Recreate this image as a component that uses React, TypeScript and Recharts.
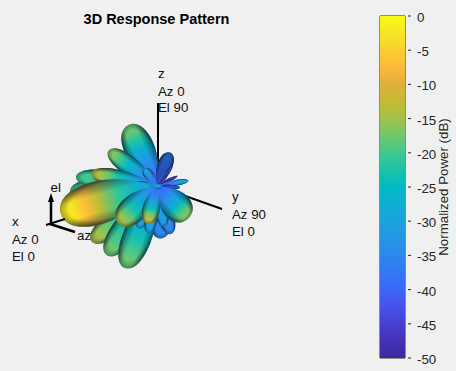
import { BarChart, Bar, ComposedChart, ReferenceArea, Scatter, XAxis, YAxis } from 'recharts'

const CHART_W = 456
const CHART_H = 371
const FONT = '"Liberation Sans", Arial, sans-serif'

// projected plot plane, hub of the pattern is at 0,0
const U_DOMAIN = [-78.5, 149.5]
const V_DOMAIN = [-92.5, 93]
const UNIT = CHART_W / (U_DOMAIN[1] - U_DOMAIN[0])

// colour scale
const scaleDb = [0, -2.5, -5, -7.5, -10, -12.5, -15, -17.5, -20, -22.5, -25, -27.5, -30, -32.5, -35, -37.5, -40, -42.5, -45, -47.5, -50]
const scaleColor = ['#f9fb15', '#f5e526', '#f9cf30', '#feb93a', '#dfb03c', '#c4bb33', '#a2c14c', '#72c76d', '#40c88f', '#1ac3a8', '#01bbc4', '#0eaed2', '#1ca2dc', '#2596e6', '#2b88ee', '#3378f6', '#3d66f8', '#4652ec', '#483fd4', '#4430b6', '#3c2a9a']
const powerTicks = [0, -5, -10, -15, -20, -25, -30, -35, -40, -45, -50]

// lobes in paint order, back to front. All start at the hub except the last one
const lobeU = [0, 0, 0, 0, 0, 0, 0, 0, 0, 0, 0, 0, 0, 0, 0, 0, 0, 0, 0, 0, 0, 0, 0, 0, 0, -2]
const lobeV = [0, 0, 0, 0, 0, 0, 0, 0, 0, 0, 0, 0, 0, 0, 0, 0, 0, 0, 0, 0, 0, 0, 0, 0, 0, 0]
const lobeTipU = [-43.5, -40.5, 2.2, 7, -32.7, -25.2, -16, -9.3, -4.3, 3.5, -14.3, -24.2, 6.5, -6.5, 5.2, 7.3, 10.2, 15.7, 11.5, -32.7, -11.3, -48.2, 15.7, -19.3, -4.8, 2.5]
const lobeTipV = [-2.8, 4.7, -26.2, -24, -27.8, -34.5, -41, -21.2, -23.7, -20.3, 30.5, 17.7, 16.7, 8.8, 7.2, 9.3, 5, 2.7, -0.7, 6.3, 1, -13.7, -16.2, -18.7, -18.7, 0]
const lobeWidth = [12, 10, 11, 8, 12, 13, 14.5, 6.5, 6.5, 6.5, 15, 9.5, 7.5, 4.7, 3, 1.5, 1.5, 3, 2, 8.7, 3.4, 21.5, 14.5, 13.5, 8.7, 2.4]
const lobeBaseDb = [-30, -30, -36, -36, -31, -31, -33, -33, -33, -34, -40, -37, -42, -38, -42, -46, -48, -42, -46, -36, -34, -30, -40, -36, -40, -28]
const lobeTipDb = [-20, -20, -35, -35, -15, -18, -18, -30, -30, -31, -18, -17, -36, -30, -34, -40, -44, -29, -36, -14, -28, -2, -17, -15, -13, -31]

const hubLineZ = [{ u: 0.5, v: 41.5 }, { u: 0.5, v: 0 }]
const hubLineY = [{ u: 0, v: 0 }, { u: 32.5, v: -11.5 }]
const triadEl = [{ u: -53, v: -19 }, { u: -53, v: -6 }]
const triadAz = [{ u: -53.5, v: -19 }, { u: -41, v: -23 }]
const triadOther = [{ u: -55.5, v: -19.5 }, { u: -46, v: -16.5 }]
const triadHead = [{ u: -53, v: -5 }]

const labelTexts = ['x', 'Az 0', 'El 0', 'y', 'Az 90', 'El 0', 'z', 'Az 0', 'El 90', 'el', 'az']
const labelU = [-72.5, -72.5, -72.5, 37.5, 37.5, 37.5, 0.5, 0.5, 0.5, -53.2, -40]
const labelV = [-18, -27, -35.5, -5.5, -14.5, -23.2, 56.2, 47.2, 39, -1, -25]

const lobes = lobeU.map((u, i) => ({
  u,
  v: lobeV[i],
  tipU: lobeTipU[i],
  tipV: lobeTipV[i],
  width: lobeWidth[i],
  baseDb: lobeBaseDb[i],
  tipDb: lobeTipDb[i],
}))
const labels = labelTexts.map((text, i) => ({ u: labelU[i], v: labelV[i], text }))
const powerRow = [{ name: 'power', value: -50 }]

function dbColor(db: number) {
  const d = Math.max(-50, Math.min(0, db))
  const idx = Math.min(scaleDb.length - 2, Math.floor(-d / 2.5))
  const t = (scaleDb[idx] - d) / 2.5
  const a = scaleColor[idx]
  const b = scaleColor[idx + 1]
  const mix = (p: number) => {
    const ca = parseInt(a.slice(p, p + 2), 16)
    const cb = parseInt(b.slice(p, p + 2), 16)
    return Math.round(ca + (cb - ca) * t)
  }
  return `rgb(${mix(1)},${mix(3)},${mix(5)})`
}

// colour runs with the radius, so the tip of each lobe is at its peak
const LOBE_STOPS = [0, 0.2, 0.4, 0.6, 0.75, 0.88, 1]

function Lobe(props: any) {
  const { cx, cy, payload, index } = props
  const dx = (payload.tipU - payload.u) * UNIT
  const dy = -(payload.tipV - payload.v) * UNIT
  const L = Math.hypot(dx, dy)
  const w = payload.width * UNIT
  const angle = (Math.atan2(dy, dx) * 180) / Math.PI
  const d = `M0,0 C${0.2 * L},${-0.28 * w} ${0.4 * L},${-0.5 * w} ${0.63 * L},${-0.5 * w} C${0.86 * L},${-0.5 * w} ${L},${-0.3 * w} ${L},0 C${L},${0.3 * w} ${0.86 * L},${0.5 * w} ${0.63 * L},${0.5 * w} C${0.4 * L},${0.5 * w} ${0.2 * L},${0.28 * w} 0,0 Z`
  // faint back-facing lobes read darker than their colour
  const dim = payload.tipDb <= -36 ? 0.3 : 0
  return (
    <g transform={`translate(${cx},${cy}) rotate(${angle})`}>
      <defs>
        <linearGradient id={`lobe-${index}`} x1="0" y1="0" x2="1" y2="0">
          {LOBE_STOPS.map(t => (
            <stop
              key={t}
              offset={t}
              stopColor={dbColor(payload.baseDb + (payload.tipDb - payload.baseDb) * Math.pow(Math.min(1, t / 0.85), 1.5))}
            />
          ))}
        </linearGradient>
        <linearGradient id={`rim-${index}`} x1="0" y1="0" x2="0" y2="1">
          <stop offset="0" stopColor="#04122a" stopOpacity={0.5} />
          <stop offset="0.28" stopColor="#04122a" stopOpacity={0} />
          <stop offset="0.68" stopColor="#04122a" stopOpacity={0} />
          <stop offset="1" stopColor="#04122a" stopOpacity={0.55} />
        </linearGradient>
        <radialGradient id={`shade-${index}`} cx="0.5" cy="0.5" r="0.55">
          <stop offset="0.75" stopColor="#000" stopOpacity={0} />
          <stop offset="1" stopColor="#04122a" stopOpacity={0.5} />
        </radialGradient>
      </defs>
      <path d={d} fill={`url(#lobe-${index})`} />
      <path d={d} fill={`url(#rim-${index})`} />
      <path d={d} fill={`url(#shade-${index})`} />
      {dim > 0 && <path d={d} fill="#04122a" fillOpacity={dim} />}
    </g>
  )
}

function NoMark() {
  return <g />
}

function AxisText(props: any) {
  const { cx, cy, payload } = props
  return (
    <text x={cx} y={cy + 4} fontFamily={FONT} fontSize={13.3} fill="#111">
      {payload.text}
    </text>
  )
}

function ArrowHead(props: any) {
  const { cx, cy } = props
  return <path d={`M${cx},${cy - 3} L${cx + 3},${cy + 6} L${cx - 3},${cy + 6} Z`} fill="#000" />
}

function PowerTick(props: any) {
  const { x, y, payload } = props
  return (
    <g>
      <line x1={x - 9} x2={x - 6} y1={y} y2={y} stroke="#262626" />
      <text x={x} y={y + 6} fontFamily={FONT} fontSize={13.3} fill="#262626">
        {payload.value}
      </text>
    </g>
  )
}

export default function App() {
  return (
    <div style={{ position: 'absolute', left: 0, top: 0, width: CHART_W, height: CHART_H, background: '#f0f0f0', overflow: 'hidden' }}>
      <div style={{ position: 'absolute', left: 0, top: 11, width: 313, textAlign: 'center', fontFamily: FONT, fontWeight: 'bold', fontSize: 14.5, color: '#000' }}>
        3D Response Pattern
      </div>

      <div style={{ position: 'absolute', left: 0, top: 0 }}>
        <ComposedChart width={CHART_W} height={CHART_H} margin={{ top: 0, right: 0, bottom: 0, left: 0 }}>
          <XAxis type="number" dataKey="u" domain={U_DOMAIN} hide />
          <YAxis type="number" dataKey="v" domain={V_DOMAIN} hide />
          <Scatter data={hubLineZ} line={{ stroke: '#000', strokeWidth: 2 }} shape={NoMark} isAnimationActive={false} />
          <Scatter data={hubLineY} line={{ stroke: '#000', strokeWidth: 2 }} shape={NoMark} isAnimationActive={false} />
          <Scatter data={lobes} shape={Lobe} isAnimationActive={false} />
          <Scatter data={triadOther} line={{ stroke: '#000', strokeWidth: 2 }} shape={NoMark} isAnimationActive={false} />
          <Scatter data={triadAz} line={{ stroke: '#000', strokeWidth: 2.5 }} shape={NoMark} isAnimationActive={false} />
          <Scatter data={triadEl} line={{ stroke: '#000', strokeWidth: 2.5 }} shape={NoMark} isAnimationActive={false} />
          <Scatter data={triadHead} shape={ArrowHead} isAnimationActive={false} />
          <Scatter data={labels} shape={AxisText} isAnimationActive={false} />
        </ComposedChart>
      </div>

      <div style={{ position: 'absolute', left: 370, top: 0 }}>
        <BarChart width={86} height={CHART_H} data={powerRow} barCategoryGap={0} margin={{ top: 16, right: 6, bottom: 13, left: 10 }}>
          <defs>
            <linearGradient id="power-scale" x1="0" y1="0" x2="0" y2="1">
              {scaleDb.map((db, i) => (
                <stop key={db} offset={-db / 50} stopColor={scaleColor[i]} />
              ))}
            </linearGradient>
          </defs>
          <XAxis dataKey="name" hide />
          <YAxis
            type="number"
            orientation="right"
            width={45}
            domain={[-50, 0]}
            ticks={powerTicks}
            interval={0}
            axisLine={false}
            tickLine={false}
            tick={PowerTick}
            tickMargin={6}
            label={{ value: 'Normalized Power (dB)', angle: -90, position: 'center', dx: 16, fontFamily: FONT, fontSize: 13.3, fill: '#262626' }}
          />
          <Bar dataKey="value" fill="url(#power-scale)" isAnimationActive={false} />
          <ReferenceArea y1={-50} y2={0} fill="none" stroke="#262626" strokeWidth={1} />
        </BarChart>
      </div>
    </div>
  )
}
